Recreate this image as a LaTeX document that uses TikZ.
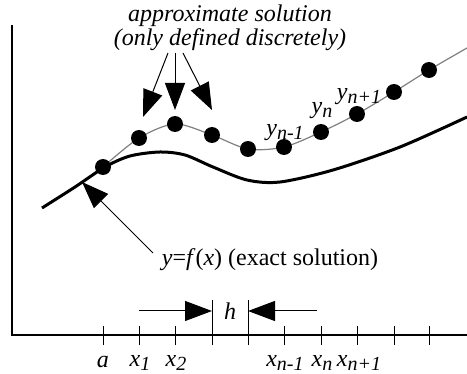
\documentclass[tikz,border=0pt]{standalone}
\usepackage{fontspec}
\setmainfont{Liberation Serif}
\usetikzlibrary{arrows.meta}
\tikzset{
  dot/.style={circle,fill=black,inner sep=0pt,minimum size=8pt},
  bigtip/.style={line width=0.5pt,-{Triangle[length=13.5pt,width=10pt]}},
  lbl/.style={inner sep=0pt,font=\fontsize{12}{10.5}\selectfont},
}
\newcommand{\lowsub}[1]{\raisebox{-0.3ex}{\fontsize{10}{10}\selectfont\itshape #1}}

\begin{document}
\begin{tikzpicture}[x=0.5pt,y=-0.5pt]
\useasboundingbox (0,0) rectangle (467,374);
% axes
\draw[line width=0.6pt] (12,25) |- (467,335);
\foreach \i/\x in {0/103,1/139,2/175,3/212,4/248,5/284,6/321,7/357,8/394,9/429}
  \coordinate (t\i) at (\x,335);
\foreach \i in {0,1,2,5,6,7,8,9}
  \draw[line width=0.5pt] (t\i) ++(0,-9) -- ++(0,19);
\foreach \i in {3,4}
  \draw[line width=0.5pt] (t\i) ++(0,-35) -- ++(0,45);

\node[lbl] (xa) at (103,362) {\textit{a}};
\node[lbl] (x1) at (140,363) {\textit{x}\lowsub{1}};
\node[lbl] (x2) at (176,363) {\textit{x}\lowsub{2}};
\node[lbl] (xn1) at (285,363) {\textit{x}\lowsub{n-1}};
\node[lbl] (xn) at (322,363) {\textit{x}\lowsub{n}};
\node[lbl] (xn2) at (359,363) {\textit{x}\lowsub{n+1}};

% step width
\node[lbl] (h) at (230,311) {\textit{h}};
\coordinate (hl) at (139,311);
\coordinate (hr) at (317,311);
\draw[bigtip] (hl) -- (t3 |- h);
\draw[bigtip] (hr) -- (t4 |- h);

% exact solution
\draw[line width=1.5pt] plot[smooth] coordinates {(42,208) (75,187) (105,167)
  (130,156) (160,152) (185,155) (213,167) (247,180) (280,182) (333,170)
  (400,147) (467,117)};

% approximate solution
\foreach \i/\y in {0/167,1/138,2/124,3/135,4/149,5/147,6/132,7/114,8/92,9/70}
  \coordinate (p\i) at (t\i |- 0,\y);
\draw[gray,line width=0.6pt] plot[smooth] coordinates {(p0) (p1) (p2) (p3) (p4)
  (p5) (p6) (p7) (p8) (p9) (467,48)};
\foreach \i in {0,...,9}
  \node[dot] (d\i) at (p\i) {};

\node[lbl] (yn1) at (285,133) {\textit{y}\lowsub{n-1}};
\node[lbl] (yn) at (322,111) {\textit{y}\lowsub{n}};
\node[lbl] (yn2) at (359,97) {\textit{y}\lowsub{n+1}};

\node[lbl,align=center,font=\fontsize{12}{10.5}\selectfont\itshape] (sol) at (230,28)
  {approximate solution\\(only defined discretely)};
\coordinate (s1) at (168,53);
\coordinate (s2) at (175,53);
\coordinate (s3) at (183,53);
\coordinate (a1) at (143,117);
\coordinate (a2) at (175,110);
\coordinate (a3) at (212,110);
\draw[bigtip] (s1) -- (a1);
\draw[bigtip] (s2) -- (a2);
\draw[bigtip] (s3) -- (a3);

\node[lbl] (exact) at (270,260) {\textit{y}=\textit{f}(\textit{x}) (exact solution)};
\coordinate (e1) at (153,253);
\coordinate (e2) at (82,182);
\draw[bigtip] (e1) -- (e2);
\end{tikzpicture}
\end{document}
